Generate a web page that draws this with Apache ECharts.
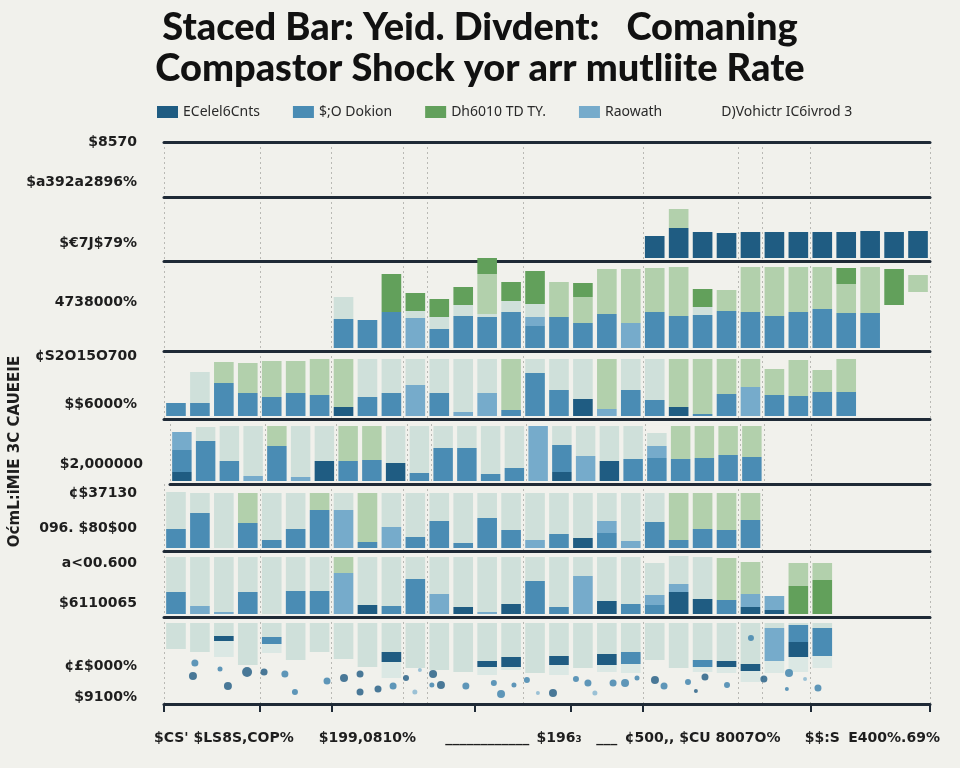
<!DOCTYPE html>
<html><head><meta charset="utf-8">
<script src="https://cdn.jsdelivr.net/npm/echarts@6/dist/echarts.min.js"></script>
<style>html,body{margin:0;padding:0;background:#f1f1ec}#c{width:960px;height:768px}</style>
</head><body><div id="c"></div><script>
// ---------- text ----------
const titleText = 'Staced Bar: Yeid. Divdent:   Comaning\nCompastor Shock yor arr mutliite Rate';
const legendNames = ['ECelel6Cnts', '$;O Dokion', 'Dh6010 TD TY.', 'Raowath', 'D)Vohictr IC6ivrod 3'];
const yAxisTitle = 'OćmL:iMIE 3C CAUEEIE';
const categories = ['', '', "$CS' $LS8S,COP%", '', '', '', '', '', '$199,0810%', '', '', '', '',
  '____________', '', '', '$196₃', '', '___', '', '', '', '¢500,, $CU 8007O%', '', '', '', '',
  '$$:S', '', '', 'E400%.69%', ''];
const gridlineSlots = [0, 4, 7, 10, 11, 15, 20, 24, 25, 27];
const tickSlots = [0, 4, 7, 13, 17, 20, 27];

// ---------- y tick labels per band ----------
const bandA_ticks = [52, 12]; const bandA_labels = ['$8570', '$a392a2896%'];
const bandB_ticks = [15];     const bandB_labels = ['$€7J$79%'];
const bandC_ticks = [46];     const bandC_labels = ['4738000%'];
const bandD_ticks = [60, 12]; const bandD_labels = ['¢S2O15O700', '$$6000%'];
const bandE_ticks = [17];     const bandE_labels = ['$2,000000'];
const bandF_ticks = [55, 20]; const bandF_labels = ['¢$37130', '096. $80$00'];
const bandG_ticks = [51, 11]; const bandG_labels = ['a<00.600', '$6110065'];
const bandH_ticks = [35, 4];  const bandH_labels = ['¢£$000%', '$9100%'];

// ---------- band B (from category 20) ----------
const bandB_start = 20;
const bandB_navy = [22, 30, 26, 25, 26, 26, 26, 26, 26, 27, 26, 27];
const bandB_lightgreen = [0, 19, 0, 0, 0, 0, 0, 0, 0, 0, 0, 0];

// ---------- band C (from category 7) ----------
const bandC_start = 7;
const bandC_offset = [0,0,0,0,0,0,0,0,0,0,0,0,0,0,0,0,0,0,0,0,0,0,0,43,56];
const bandC_blue = [29,28,36,0,19,32,31,36,22,31,25,34,0,36,32,33,37,36,32,36,39,35,35,0,0];
const bandC_lightblue = [0,0,0,30,0,0,0,0,9,0,0,0,25,0,0,0,0,0,0,0,0,0,0,0,0];
const bandC_pale = [22,0,0,7,12,11,3,11,13,0,0,0,0,0,0,8,0,0,0,0,0,0,0,0,0];
const bandC_lightgreen = [0,0,0,0,0,0,40,0,0,35,26,45,54,44,49,0,21,45,49,45,42,29,46,0,17];
const bandC_green = [0,0,38,18,18,18,16,19,33,0,14,0,0,0,0,18,0,0,0,0,0,16,0,36,0];

// ---------- band D (from category 0) ----------
const bandD_start = 0;
const bandD_navy = [0,0,0,0,0,0,0,9,0,0,0,0,0,0,0,0,0,17,0,0,0,9,0,0,0,0,0,0,0];
const bandD_blue = [13,13,33,23,19,23,21,0,19,23,0,23,0,0,6,43,26,0,0,26,16,0,2,22,0,21,20,24,24];
const bandD_lightblue = [0,0,0,0,0,0,0,0,0,0,31,0,4,23,0,0,0,0,7,0,0,0,0,0,29,0,0,0,0];
const bandD_pale = [0,31,0,0,0,0,0,0,38,34,26,34,53,34,0,14,31,40,0,31,41,0,0,0,0,0,0,0,0];
const bandD_lightgreen = [0,0,21,30,36,32,36,48,0,0,0,0,0,0,51,0,0,0,50,0,0,48,55,35,28,26,36,22,33];

// ---------- band E (from category 0) ----------
const bandE_start = 0;
const bandE_navy = [9,0,0,0,0,0,20,0,0,18,0,0,0,0,0,0,9,0,20,0,0,0,0,0,0];
const bandE_blue = [22,40,20,0,35,0,0,20,21,0,8,33,33,7,13,0,27,0,0,22,23,22,23,26,24];
const bandE_lightblue = [18,0,0,5,0,4,0,0,0,0,0,0,0,0,0,55,0,25,0,0,12,0,0,0,0];
const bandE_pale = [0,14,35,50,0,51,35,0,0,37,47,22,22,48,42,0,19,30,35,33,13,0,0,0,0];
const bandE_lightgreen = [0,0,0,0,20,0,0,35,34,0,0,0,0,0,0,0,0,0,0,0,0,33,32,29,31];

// ---------- band F (from category 0) ----------
const bandF_start = 0;
const bandF_navy = [0,0,0,0,0,0,0,0,0,0,0,0,0,0,0,0,0,10,0,0,0,0,0,0,0];
const bandF_blue = [19,35,0,25,8,19,38,0,6,0,11,27,5,30,18,0,14,0,15,0,26,8,19,18,28];
const bandF_lightblue = [0,0,0,0,0,0,0,38,0,21,0,0,0,0,0,8,0,0,12,7,0,0,0,0,0];
const bandF_pale = [37,20,55,0,47,36,0,17,0,34,44,28,50,25,37,47,41,45,28,48,29,0,0,0,0];
const bandF_lightgreen = [0,0,0,30,0,0,17,0,49,0,0,0,0,0,0,0,0,0,0,0,0,47,36,37,27];

// ---------- band G (from category 0) ----------
const bandG_start = 0;
const bandG_navy = [0,0,0,0,0,0,0,0,9,0,0,0,7,0,10,0,0,0,13,0,0,22,15,0,7,4,0,0];
const bandG_blue = [22,0,0,22,0,23,23,0,0,8,35,0,0,0,0,33,7,0,0,10,9,0,0,14,0,0,0,0];
const bandG_lightblue = [0,8,2,0,0,0,0,41,0,0,0,20,0,2,0,0,0,38,0,0,10,8,0,0,13,14,0,0];
const bandG_pale = [35,49,55,35,57,34,34,0,48,49,22,37,50,55,47,24,50,19,44,47,32,28,42,0,0,0,0,0];
const bandG_green = [0,0,0,0,0,0,0,0,0,0,0,0,0,0,0,0,0,0,0,0,0,0,0,0,0,0,28,34];
const bandG_lightgreen = [0,0,0,0,0,0,0,16,0,0,0,0,0,0,0,0,0,0,0,0,0,0,0,42,32,0,23,17];

// ---------- band H (from category 0, bars hang from the top) ----------
const bandH_start = 0;
const bandH_offset = [52,49,44,36,48,41,49,42,34,23,33,31,29,26,31,28,26,33,29,28,41,33,29,28,19,28,29,33];
const bandH_paleLow = [0,0,16,0,9,0,0,0,0,16,0,0,0,8,3,0,10,0,7,9,0,0,5,6,11,12,15,12];
const bandH_navy = [0,0,5,0,0,0,0,0,0,10,0,0,0,6,10,0,9,0,11,0,0,0,0,6,7,0,15,0];
const bandH_blue = [0,0,0,0,7,0,0,0,0,0,0,0,0,0,0,0,0,0,0,12,0,0,7,0,0,0,17,28];
const bandH_lightblue = [0,0,0,0,0,0,0,0,0,0,0,0,0,0,0,0,0,0,0,0,0,0,0,0,0,33,0,0];
const bandH_pale = [26,29,13,42,14,37,29,36,44,29,45,47,49,38,34,50,33,45,31,29,37,45,37,38,41,5,2,5];

// dots in band H: [category position, height, size]
const dotsNavy = [[1.21,25,8],[2.67,15,8],[3.47,29,10],[4.18,29,7],[7.52,23,8],[8.19,27,7],[8.19,9,7],[8.94,12,7],[10.11,23,6],[11.24,27,8],[11.57,16,8],[16.25,8,8],[20.51,21,8],[22.22,10,4],[22.6,24,7],[25.06,22,7]];
const dotsBlue = [[1.29,38,7],[2.34,32,5],[5.05,27,7],[5.47,9,6],[6.81,20,7],[9.57,15,7],[11.19,16,5],[12.61,15,7],[13.78,18,6],[14.08,7,8],[14.62,16,5],[15.16,21,6],[17.21,22,6],[17.71,18,7],[18.76,18,7],[19.26,18,8],[19.76,23,5],[20.89,15,7],[21.89,19,6],[23.52,16,6],[24.52,63,6],[26.02,12,4],[26.11,28,8],[27.32,13,7]];
const dotsLight = [[10.48,9,5],[10.69,31,4],[15.62,8,4],[18.0,8,5],[26.78,22,4]];

// ---------- styling ----------
const SEG = {
  offset:     { name: '_offset', color: 'rgba(0,0,0,0)' },
  navy:       { name: legendNames[0], color: '#1f5c82' },
  blue:       { name: legendNames[1], color: '#4a8cb4' },
  green:      { name: legendNames[2], color: '#62a05b' },
  lightblue:  { name: legendNames[3], color: '#76abcb' },
  pale:       { name: legendNames[4], color: '#cfe0da' },
  paleLow:    { name: legendNames[4], color: '#dbe8e4' },
  lightgreen: { name: '_lightgreen', color: '#b2d0ac' }
};
const LINE = '#1f2a36';
const bandLayout = [ // top, height (px)
  [142, 55], [197, 64], [261, 90], [351, 68], [419, 65], [484, 67], [551, 66], [617, 87]
];
const bandTicks = [bandA_ticks, bandB_ticks, bandC_ticks, bandD_ticks, bandE_ticks, bandF_ticks, bandG_ticks, bandH_ticks];
const bandLabels = [bandA_labels, bandB_labels, bandC_labels, bandD_labels, bandE_labels, bandF_labels, bandG_labels, bandH_labels];

const bands = [
  null,
  { start: bandB_start, segs: [['navy', bandB_navy], ['lightgreen', bandB_lightgreen]] },
  { start: bandC_start, segs: [['offset', bandC_offset], ['blue', bandC_blue], ['lightblue', bandC_lightblue], ['pale', bandC_pale], ['lightgreen', bandC_lightgreen], ['green', bandC_green]] },
  { start: bandD_start, segs: [['navy', bandD_navy], ['blue', bandD_blue], ['lightblue', bandD_lightblue], ['pale', bandD_pale], ['lightgreen', bandD_lightgreen]] },
  { start: bandE_start, segs: [['navy', bandE_navy], ['blue', bandE_blue], ['lightblue', bandE_lightblue], ['pale', bandE_pale], ['lightgreen', bandE_lightgreen]] },
  { start: bandF_start, segs: [['navy', bandF_navy], ['blue', bandF_blue], ['lightblue', bandF_lightblue], ['pale', bandF_pale], ['lightgreen', bandF_lightgreen]] },
  { start: bandG_start, segs: [['navy', bandG_navy], ['blue', bandG_blue], ['lightblue', bandG_lightblue], ['pale', bandG_pale], ['green', bandG_green], ['lightgreen', bandG_lightgreen]] },
  { start: bandH_start, segs: [['offset', bandH_offset], ['paleLow', bandH_paleLow], ['navy', bandH_navy], ['blue', bandH_blue], ['lightblue', bandH_lightblue], ['pale', bandH_pale]] }
];

function pad(start, arr) {
  const out = new Array(categories.length).fill(null);
  arr.forEach((v, i) => { out[start + i] = v; });
  return out;
}

const grids = [], xAxes = [], yAxes = [], series = [];
bandLayout.forEach(([top, h], k) => {
  grids.push({ left: 164, right: 30, top: top, height: h });
  const last = k === bandLayout.length - 1;
  xAxes.push({
    type: 'category', gridIndex: k, data: categories, boundaryGap: true,
    axisLine: { show: true, onZero: false, lineStyle: { color: LINE, width: 3 } },
    axisTick: last ? { show: true, interval: (i) => tickSlots.includes(i), length: 8, lineStyle: { color: LINE, width: 2 } } : { show: false },
    axisLabel: last ? { show: true, interval: 0, margin: 27, color: '#1e1e1e', fontWeight: 'bold', fontSize: 14, fontFamily: 'DejaVu Sans' } : { show: false },
    splitLine: { show: true, interval: (i) => gridlineSlots.includes(i), lineStyle: { color: '#b9b9b4', type: [2, 3], width: 1 } }
  });
  const ticks = bandTicks[k], labels = bandLabels[k];
  const ya = {
    type: 'value', gridIndex: k, min: -3, max: h - 3,
    axisLine: { show: false }, axisTick: { show: false }, splitLine: { show: false },
    axisLabel: {
      show: true, customValues: ticks, margin: 27,
      formatter: (v) => { const j = ticks.indexOf(Math.round(v)); return j >= 0 ? labels[j] : ''; },
      color: '#1e1e1e', fontWeight: 'bold', fontSize: 14, fontFamily: 'DejaVu Sans'
    }
  };
  if (k === 4) {
    ya.name = yAxisTitle; ya.nameLocation = 'middle'; ya.nameRotate = 90; ya.nameGap = 147;
    ya.nameTextStyle = { color: '#1e1e1e', fontWeight: 'bold', fontSize: 15, fontFamily: 'DejaVu Sans' };
  }
  yAxes.push(ya);
  const band = bands[k];
  if (band) {
    band.segs.forEach(([key, arr]) => {
      series.push({
        type: 'bar', name: SEG[key].name, xAxisIndex: k, yAxisIndex: k, stack: 'band' + k,
        data: pad(band.start, arr), barCategoryGap: '18%', clip: false, silent: true,
        itemStyle: { color: SEG[key].color }, emphasis: { disabled: true }
      });
    });
  }
});
// top border line of band A
xAxes.push({ type: 'category', gridIndex: 0, position: 'top', data: categories,
  axisLine: { show: true, onZero: false, lineStyle: { color: LINE, width: 3 } },
  axisTick: { show: false }, axisLabel: { show: false }, splitLine: { show: false } });
// value x axis for dots in band H
xAxes.push({ type: 'value', gridIndex: 7, min: 0, max: categories.length, show: false, splitLine: { show: false } });
const dotXIndex = xAxes.length - 1;
[[dotsNavy, '#1f5a82'], [dotsBlue, '#3a7fab'], [dotsLight, '#86b5cf']].forEach(([d, c], i) => {
  series.push({ type: 'scatter', name: '_dots' + i, xAxisIndex: dotXIndex, yAxisIndex: 7, data: d,
    symbolSize: (v) => v[2], itemStyle: { color: c }, silent: true, z: 3 });
});

const chart = echarts.init(document.getElementById('c'));
chart.setOption({
  backgroundColor: '#f1f1ec',
  animation: false,
  title: { text: titleText, left: 'center', top: 2,
    textStyle: { fontFamily: 'Lato', fontWeight: 900, fontSize: 38, color: '#111', lineHeight: 41 } },
  legend: {
    data: legendNames.map((n, i) => i === 4 ? { name: n, icon: 'none' } : { name: n }),
    left: 152, top: 100, itemWidth: 21, itemHeight: 12, itemGap: 33, icon: 'rect',
    textStyle: { color: '#2a2a2a', fontSize: 14, fontFamily: 'Noto Sans' }
  },
  grid: grids, xAxis: xAxes, yAxis: yAxes, series: series
});
</script></body></html>
